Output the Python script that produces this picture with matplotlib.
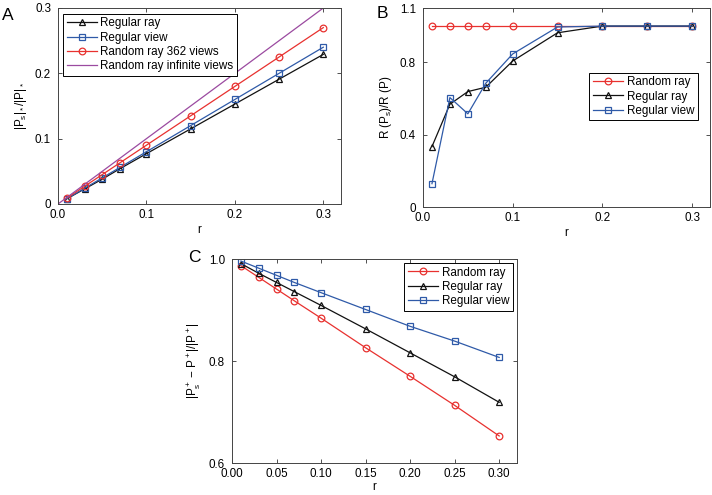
import matplotlib
matplotlib.use("Agg")
import matplotlib.pyplot as plt

plt.rcParams['font.family'] = ['Liberation Sans', 'DejaVu Sans']
plt.rcParams['mathtext.fontset'] = 'custom'
plt.rcParams['mathtext.rm'] = 'Liberation Sans'
plt.rcParams['mathtext.it'] = 'Liberation Sans'

r = [0.01, 0.03, 0.05, 0.07, 0.10, 0.15, 0.20, 0.25, 0.30]

# Panel A
a_regular_ray = [0.008, 0.023, 0.038, 0.054, 0.077, 0.115, 0.153, 0.191, 0.229]
a_regular_view = [0.008, 0.024, 0.040, 0.056, 0.080, 0.120, 0.160, 0.200, 0.240]
a_random_362 = [0.009, 0.027, 0.045, 0.063, 0.090, 0.135, 0.180, 0.225, 0.270]
a_inf_x = [0.0, 0.30]
a_inf_y = [0.0, 0.30]

# Panel B
b_random_ray = [1.0, 1.0, 1.0, 1.0, 1.0, 1.0, 1.0, 1.0, 1.0]
b_regular_ray = [0.334, 0.568, 0.638, 0.662, 0.807, 0.963, 1.0, 1.0, 1.0]
b_regular_view = [0.129, 0.605, 0.515, 0.684, 0.846, 0.995, 1.0, 1.0, 1.0]

# Panel C
c_random_ray = [0.987, 0.964, 0.941, 0.918, 0.884, 0.826, 0.770, 0.713, 0.653]
c_regular_ray = [0.991, 0.972, 0.954, 0.936, 0.909, 0.863, 0.816, 0.769, 0.719]
c_regular_view = [0.996, 0.982, 0.968, 0.954, 0.934, 0.901, 0.868, 0.839, 0.807]

RED = '#e8312f'
BLUE = '#2f5aa8'
BLACK = '#111111'
PURPLE = '#9b4aa0'
FS = 8.4
MS = 4.8
LW = 0.9

W, H = 712, 495
fig = plt.figure(figsize=(W / 100, H / 100), dpi=100)


def ax_px(l, t, r_, b):
    return fig.add_axes([l / W, 1 - b / H, (r_ - l) / W, (b - t) / H])


def style(ax):
    ax.tick_params(direction='in', length=3, width=0.6, labelsize=FS,
                   top=True, right=True, color='#333333')
    ax.tick_params(axis='x', pad=3.5)
    ax.tick_params(axis='y', pad=5)
    for s in ax.spines.values():
        s.set_linewidth(0.7)
        s.set_color('#444444')


def leg(ax, **kw):
    lg = ax.legend(fontsize=FS, fancybox=False, framealpha=1, edgecolor='black',
                   handlelength=2.6, handletextpad=0.3, labelspacing=0.2,
                   borderpad=0.3, borderaxespad=0.0, **kw)
    lg.get_frame().set_linewidth(0.7)
    return lg


mk = dict(markerfacecolor='none', markersize=MS, markeredgewidth=0.9, linewidth=LW)

# ---- A ----
axA = ax_px(58, 8, 341, 204)
axA.plot(r, a_regular_ray, '-^', color=BLACK, label='Regular ray', **mk)
axA.plot(r, a_regular_view, '-s', color=BLUE, label='Regular view', **mk)
axA.plot(r, a_random_362, '-o', color=RED, label='Random ray 362 views', **mk)
axA.plot(a_inf_x, a_inf_y, '-', color=PURPLE, linewidth=LW, label='Random ray infinite views')
axA.set_xlim(0, 0.32)
axA.set_ylim(0, 0.3)
axA.set_xticks([0, 0.1, 0.2, 0.3])
axA.set_xticklabels(['0.0', '0.1', '0.2', '0.3'])
axA.set_yticks([0, 0.1, 0.2, 0.3])
axA.set_yticklabels(['0', '0.1', '0.2', '0.3'])
axA.set_xlabel('r', fontsize=FS, labelpad=2)
axA.set_ylabel(r'|P$_s$|$_*$/|P|$_*$', fontsize=FS, labelpad=4)
style(axA)
leg(axA, loc='upper left', bbox_to_anchor=(0.018, 0.97))
fig.text(2 / W, 1 - 15 / H, 'A', fontsize=12.5, ha='left', va='center')

# ---- B ----
axB = ax_px(423, 8, 710, 207)
axB.plot(r, b_random_ray, '-o', color=RED, label='Random ray', **mk)
axB.plot(r, b_regular_ray, '-^', color=BLACK, label='Regular ray', **mk)
axB.plot(r, b_regular_view, '-s', color=BLUE, label='Regular view', **mk)
axB.set_xlim(0, 0.32)
axB.set_ylim(0, 1.1)
axB.set_xticks([0, 0.1, 0.2, 0.3])
axB.set_xticklabels(['0.0', '0.1', '0.2', '0.3'])
axB.set_yticks([0, 0.4, 0.8, 1.1])
axB.set_yticklabels(['0', '0.4', '0.8', '1.1'])
axB.set_xlabel('r', fontsize=FS, labelpad=2)
axB.set_ylabel(r'R (P$_s$)/R (P)', fontsize=FS, labelpad=4)
style(axB)
leg(axB, loc='upper left', bbox_to_anchor=(0.58, 0.675))
fig.text(377 / W, 1 - 13 / H, 'B', fontsize=12.5, ha='left', va='center')

# ---- C ----
axC = ax_px(232, 259, 517, 463)
axC.plot(r, c_random_ray, '-o', color=RED, label='Random ray', **mk)
axC.plot(r, c_regular_ray, '-^', color=BLACK, label='Regular ray', **mk)
axC.plot(r, c_regular_view, '-s', color=BLUE, label='Regular view', **mk)
axC.set_xlim(0, 0.32)
axC.set_ylim(0.6, 1.0)
axC.set_xticks([0, 0.05, 0.10, 0.15, 0.20, 0.25, 0.30])
axC.set_xticklabels(['0.00', '0.05', '0.10', '0.15', '0.20', '0.25', '0.30'])
axC.set_yticks([0.6, 0.8, 1.0])
axC.set_yticklabels(['0.6', '0.8', '1.0'])
axC.set_xlabel('r', fontsize=FS, labelpad=1)
axC.set_ylabel(r'|P$^+_s$ − P$^+$|/|P$^+$|', fontsize=FS, labelpad=4)
style(axC)
leg(axC, loc='upper right', bbox_to_anchor=(0.985, 0.98))
fig.text(188 / W, 1 - 258 / H, 'C', fontsize=12.5, ha='left', va='center')

fig.savefig('out.png', dpi=100)
